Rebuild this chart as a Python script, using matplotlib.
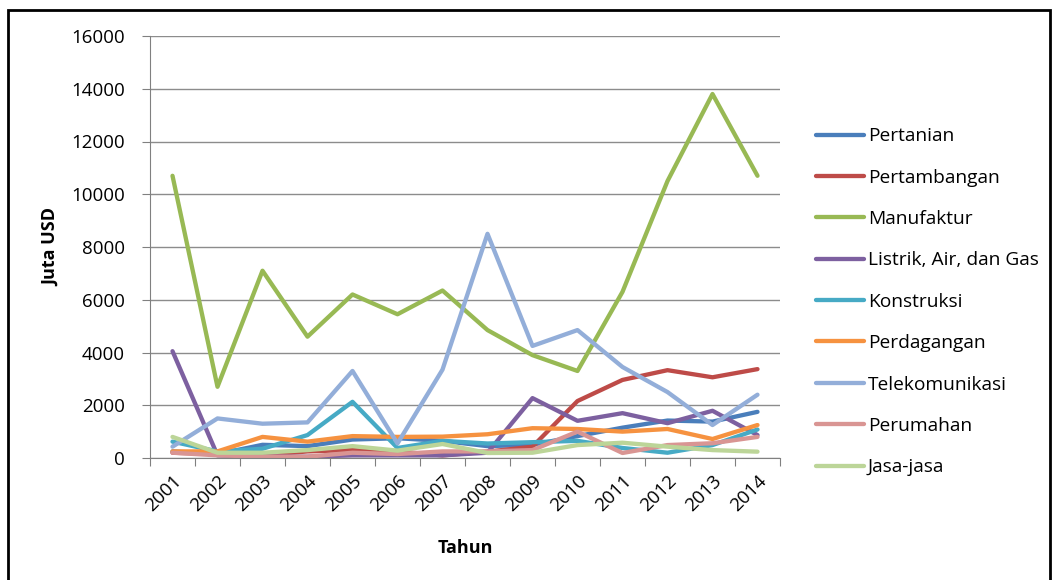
import matplotlib
matplotlib.use('Agg')
import matplotlib.pyplot as plt
from matplotlib.patches import Rectangle
import numpy as np

years = ['2001', '2002', '2003', '2004', '2005', '2006', '2007',
         '2008', '2009', '2010', '2011', '2012', '2013', '2014']

names = ['Pertanian', 'Pertambangan', 'Manufaktur', 'Listrik, Air, dan Gas',
         'Konstruksi', 'Perdagangan', 'Telekomunikasi', 'Perumahan', 'Jasa-jasa']

pertanian = [250, 150, 500, 450, 700, 750, 650, 450, 500, 830, 1150, 1420, 1380, 1750]
pertambangan = [200, 150, 100, 250, 300, 250, 100, 240, 430, 2160, 2960, 3330, 3060, 3370]
manufaktur = [10700, 2700, 7100, 4600, 6200, 5450, 6350, 4850, 3900, 3300, 6300, 10500, 13800, 10700]
listrik = [4050, 100, 50, 50, 100, 100, 100, 200, 2270, 1410, 1700, 1320, 1790, 870]
konstruksi = [620, 250, 350, 870, 2130, 380, 650, 550, 600, 650, 380, 200, 490, 1080]
perdagangan = [250, 250, 800, 620, 830, 800, 810, 900, 1130, 1100, 1000, 1100, 720, 1250]
telekom = [430, 1500, 1300, 1350, 3300, 550, 3350, 8500, 4250, 4850, 3450, 2500, 1250, 2400]
perumahan = [200, 100, 50, 50, 200, 150, 250, 250, 300, 1000, 190, 490, 560, 800]
jasa = [800, 200, 200, 300, 450, 280, 530, 190, 200, 490, 580, 430, 300, 240]

series = [pertanian, pertambangan, manufaktur, listrik, konstruksi,
          perdagangan, telekom, perumahan, jasa]
colors = ['#4A7EBB', '#BE4B48', '#98B954', '#7D60A0', '#46AAC5',
          '#F69240', '#93AED9', '#D99593', '#BCD598']

plt.rcParams['font.family'] = ['Open Sans', 'DejaVu Sans']

fig = plt.figure(figsize=(10.55, 5.8), dpi=100)
ax = fig.add_axes([150/1055, 122/580, 630/1055, 422/580])

x = np.arange(len(years))
for vals, name, c in zip(series, names, colors):
    ax.plot(x, vals, color=c, lw=3.1, label=name, solid_capstyle='round', solid_joinstyle='round')

ax.set_xlim(-0.5, len(years) - 0.5)
ax.set_ylim(0, 16000)
ax.set_yticks(range(0, 16001, 2000))
ax.yaxis.grid(True, color='#8c8c8c', lw=1)
ax.set_axisbelow(True)

ax.set_xticks(np.arange(-0.5, len(years)), [''] * (len(years) + 1))
ax.set_xticks(x, years, minor=True)
ax.tick_params(axis='x', which='major', length=6, color='#808080', direction='out')
ax.tick_params(axis='x', which='minor', length=0, labelsize=13.5, pad=10)
ax.tick_params(axis='y', length=6, color='#808080', labelsize=13.5, pad=12)
for lbl in ax.get_xticklabels(minor=True):
    lbl.set_rotation(45)
    lbl.set_ha('right')
    lbl.set_va('top')
    lbl.set_rotation_mode('anchor')

for s in ['top', 'right']:
    ax.spines[s].set_visible(False)
ax.spines['left'].set_color('#808080')
ax.spines['bottom'].set_color('#808080')

ax.set_ylabel('Juta USD', fontsize=13, fontweight='bold', labelpad=8)
ax.set_xlabel('Tahun', fontsize=13, fontweight='bold', labelpad=17)

fig.legend(loc='upper left', bbox_to_anchor=(799/1055, 1 - 110/580), frameon=False,
           fontsize=13.8, handlelength=2.5, handletextpad=0.2, labelspacing=1.22)

fig.patches.append(Rectangle((8/1055, -0.05), 1042/1055, 1.05 - 10/580, transform=fig.transFigure,
                             fill=False, edgecolor='black', lw=2))

fig.savefig('out.png', dpi=100)
